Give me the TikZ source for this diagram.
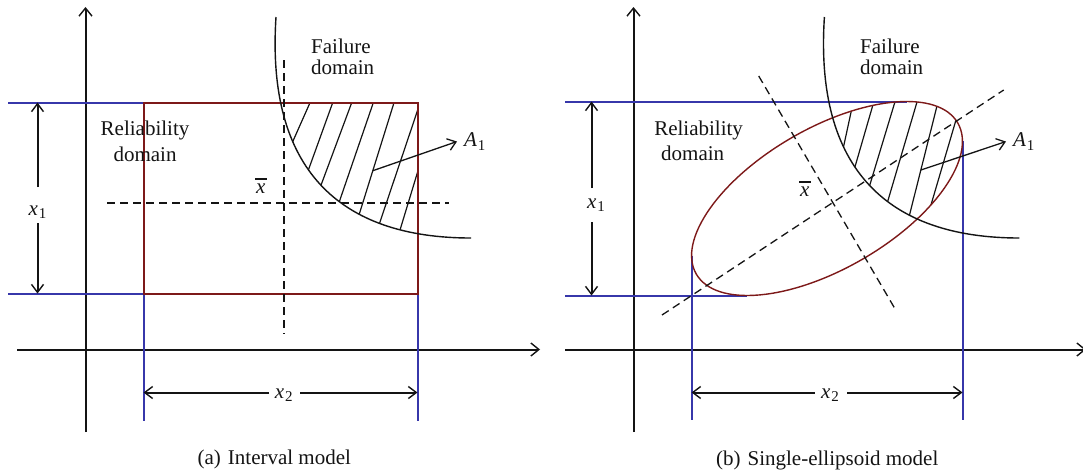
\documentclass[tikz,border=0pt]{standalone}
\usepackage{fontspec}
\setmainfont{Liberation Serif}
\usetikzlibrary{arrows.meta,calc}
\definecolor{bluel}{RGB}{55,55,170}
\definecolor{redl}{RGB}{125,25,25}
\definecolor{ink}{RGB}{20,20,20}
\newcommand{\lowidx}[1]{\kern0.8pt\raisebox{-3.5pt}{\fontsize{15}{15}\selectfont #1}}
\newcommand{\xbarsym}{\setbox0\hbox{\itshape x}\vbox{\hrule height 1.8pt width \dimexpr\wd0+2.5pt\relax\kern 3.4pt\hbox{\kern1pt\box0}}}
\newcommand{\hatchline}[2]{\draw[hatch] ($#1!-0.4!#2$) -- ($#1!1.4!#2$);}
\newcommand{\failcurve}{(276,17) .. controls (266,170) and (340,238) .. (471,238)}
\tikzset{
  lab/.style={font=\fontsize{21}{24}\selectfont, inner sep=0pt, text=ink},
  axis/.style={draw=ink, line width=2pt, -{Straight Barb[length=8pt,width=13pt,line width=1.4pt]}},
  dimarr/.style={draw=ink, line width=2pt, -{Straight Barb[length=8pt,width=12pt,line width=1.4pt]}},
  slant/.style={draw=ink, line width=1.3pt, -{Straight Barb[length=8pt,width=12pt]}},
  bound/.style={draw=bluel, line width=2pt},
  region/.style={draw=redl, line width=2pt},
  oval/.style={draw=redl, line width=1.4pt},
  guide/.style={draw=ink, line width=2pt, dash pattern=on 8pt off 5pt},
  sguide/.style={draw=ink, line width=1.3pt, dash pattern=on 8pt off 5pt},
  limit/.style={draw=ink, line width=1.4pt},
  hatch/.style={draw=ink, line width=1.2pt},
}
\begin{document}
\begin{tikzpicture}[x=1pt,y=-1pt]
\useasboundingbox (0,0) rectangle (1083,474);
\fill[white] (0,0) rectangle (1083,474);

% ================= (a) Interval model =================
\coordinate (aYb) at (85.5,432); \coordinate (aYt) at (85.5,7);
\coordinate (aXl) at (17,349.5); \coordinate (aXr) at (540,349.5);
\draw[axis] (aYb) -- (aYt);
\draw[axis] (aXl) -- (aXr);

\draw[bound] (8,102.5) -- (143.5,102.5);
\draw[bound] (8,293.5) -- (143.5,293.5);
\draw[bound] (143.5,293.5) -- (143.5,421);
\draw[bound] (417.5,293.5) -- (417.5,421);

\begin{scope}
  \clip (143.5,102.5) rectangle (417.5,293.5);
  \clip \failcurve -- (560,238) -- (560,0) -- (276,0) -- cycle;
  \hatchline{(310,102.7)}{(292.7,141.7)}
  \hatchline{(332.7,102.7)}{(309,168.3)}
  \hatchline{(351.7,102.7)}{(321.7,183.3)}
  \hatchline{(373.3,102.7)}{(339.3,201.7)}
  \hatchline{(394,102.7)}{(359.3,214)}
  \hatchline{(417.7,110)}{(379.3,224)}
  \hatchline{(417.7,171.7)}{(400,230)}
\end{scope}

\draw[region] (143.5,102.5) rectangle (417.5,293.5);
\draw[guide] (283.5,60) -- (283.5,334);
\draw[guide] (107,202.5) -- (448.6,202.5);
\draw[limit] \failcurve;

\node[lab, anchor=base] (rela1) at (145,135) {Reliability};
\node[lab, anchor=base] (rela2) at (145,161) {domain};
\node[lab, anchor=base west] (faia1) at (311,53.3) {Failure};
\node[lab, anchor=base west] (faia2) at (311,74) {domain};
\node[lab, anchor=base] (xba) at (261,193) {\xbarsym};

\node[lab, anchor=base west, inner xsep=7pt] (A1a) at (457,146.7) {\textit{A}\lowidx{1}};
\coordinate (A1as) at (372.8,170.7);
\draw[slant] (A1as) -- (A1a.west);

\node[lab, anchor=base] (x1a) at (37.5,215) {\textit{x}\lowidx{1}};
\coordinate (x1at) at (37.5,102.5); \coordinate (x1ab) at (37.5,293.5);
\coordinate (x1ag) at (37.5,187); \coordinate (x1ah) at (37.5,223);
\draw[dimarr] (x1ag) -- (x1at);
\draw[dimarr] (x1ah) -- (x1ab);

\node[lab, anchor=base] (x2a) at (283.8,398.3) {\textit{x}\lowidx{2}};
\coordinate (x2al) at (143.5,392.5); \coordinate (x2ar) at (417.5,392.5);
\coordinate (x2ag) at (269,392.5); \coordinate (x2ah) at (300,392.5);
\draw[dimarr] (x2ag) -- (x2al);
\draw[dimarr] (x2ah) -- (x2ar);

\node[lab, anchor=base] (capa) at (274.3,464) {(a)\hspace{7pt}Interval model};

% ================= (b) Single-ellipsoid model =================
\coordinate (bYb) at (633.5,432); \coordinate (bYt) at (633.5,7);
\coordinate (bXl) at (565,349.5); \coordinate (bXr) at (1086,349.5);
\draw[axis] (bYb) -- (bYt);
\draw[axis] (bXl) -- (bXr);

\draw[bound] (565,101.5) -- (906.7,101.5);
\draw[bound] (565,295.5) -- (747.3,295.5);
\draw[bound] (691.5,255.6) -- (691.5,420);
\draw[bound] (962.5,141.4) -- (962.5,420);

\begin{scope}
  \clip[rotate around={30:(827,198.5)}] (827,198.5) ellipse [x radius=151, y radius=70.3];
  \clip[xshift=548.4pt] \failcurve -- (560,238) -- (560,0) -- (276,0) -- cycle;
  \hatchline{(851.5,110)}{(843.2,148.3)}
  \hatchline{(872.6,106)}{(855.3,165.7)}
  \hatchline{(894.7,102.7)}{(870.5,182.7)}
  \hatchline{(916.4,104)}{(888.1,200)}
  \hatchline{(936.4,108.3)}{(909.5,215)}
  \hatchline{(955,123.3)}{(928.5,213.3)}
\end{scope}

\draw[oval, rotate around={30:(827,198.5)}] (827,198.5) ellipse [x radius=151, y radius=70.3];
\draw[sguide] (662,315) -- (1003.7,90);
\draw[sguide] (758.7,76) -- (894.7,308.3);
\draw[limit, xshift=548.4pt] \failcurve;

\node[lab, anchor=base] (relb1) at (698.6,135) {Reliability};
\node[lab, anchor=base] (relb2) at (692.7,160.7) {domain};
\node[lab, anchor=base west] (faib1) at (860,53.3) {Failure};
\node[lab, anchor=base west] (faib2) at (860,74) {domain};
\node[lab, anchor=base] (xbb) at (805,196) {\xbarsym};

\node[lab, anchor=base west, inner xsep=7pt] (A1b) at (1006,146.7) {\textit{A}\lowidx{1}};
\coordinate (A1bs) at (920.9,170);
\draw[slant] (A1bs) -- (A1b.west);

\node[lab, anchor=base] (x1b) at (596,208.3) {\textit{x}\lowidx{1}};
\coordinate (x1bt) at (591.5,101.5); \coordinate (x1bb) at (591.5,295.5);
\coordinate (x1bg) at (591.5,188); \coordinate (x1bh) at (591.5,222);
\draw[dimarr] (x1bg) -- (x1bt);
\draw[dimarr] (x1bh) -- (x1bb);

\node[lab, anchor=base] (x2b) at (830,398.3) {\textit{x}\lowidx{2}};
\coordinate (x2bl) at (691.5,392.5); \coordinate (x2br) at (962.5,392.5);
\coordinate (x2bg) at (814.6,392.5); \coordinate (x2bh) at (847.4,392.5);
\draw[dimarr] (x2bg) -- (x2bl);
\draw[dimarr] (x2bh) -- (x2br);

\node[lab, anchor=base] (capb) at (827.2,465) {(b)\hspace{7pt}Single-ellipsoid model};
\end{tikzpicture}
\end{document}
